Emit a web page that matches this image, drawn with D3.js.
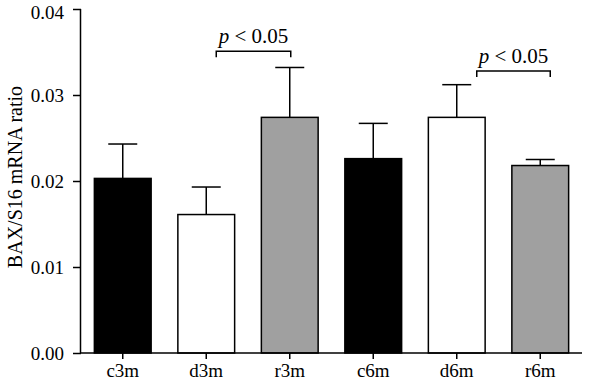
<!DOCTYPE html>
<html><head><meta charset="utf-8">
<script src="https://cdn.jsdelivr.net/npm/d3@7"></script>
<style>body{margin:0;background:#fff}svg{display:block}</style>
</head><body><svg id="c" width="600" height="383"></svg>
<script>
const categories = ["c3m","d3m","r3m","c6m","d6m","r6m"];
const means = [0.0203,0.0161,0.0274,0.0226,0.0274,0.0218];
const errors = [0.0040,0.0032,0.0058,0.0041,0.0038,0.0007];
const fills = ["#000000","#ffffff","#a0a0a0","#000000","#ffffff","#a0a0a0"];
const yTicks = [0,0.01,0.02,0.03,0.04];
const yLabel = "BAX/S16 mRNA ratio";
const comparisons = [["d3m","r3m",0.0351],["d6m","r6m",0.0328]];

const svg = d3.select("#c");
const font = "'Liberation Serif', 'DejaVu Serif', serif";
const x = d3.scaleBand().domain(categories).range([81,582]).paddingInner(0.32).paddingOuter(0.16);
const y = d3.scaleLinear().domain([0,0.04]).range([353,9]);

// bars
svg.selectAll("rect.bar").data(categories).enter().append("rect")
  .attr("x", d=>x(d)).attr("width", x.bandwidth())
  .attr("y", (d,i)=>y(means[i])).attr("height",(d,i)=>y(0)-y(means[i]))
  .attr("fill",(d,i)=>fills[i]).attr("stroke","#000").attr("stroke-width",1.5);

// error bars
const capW = 29;
categories.forEach((c,i)=>{
  const cx = x(c)+x.bandwidth()/2;
  svg.append("line").attr("x1",cx).attr("x2",cx).attr("y1",y(means[i])).attr("y2",y(means[i]+errors[i]))
    .attr("stroke","#000").attr("stroke-width",1.5);
  svg.append("line").attr("x1",cx-capW/2).attr("x2",cx+capW/2).attr("y1",y(means[i]+errors[i])).attr("y2",y(means[i]+errors[i]))
    .attr("stroke","#000").attr("stroke-width",1.5);
});

// axes
const yAxis = svg.append("g").attr("transform","translate(81,0)")
  .call(d3.axisLeft(y).tickValues(yTicks).tickFormat(d3.format(".2f")).tickSize(8).tickPadding(9));
const xAxis = svg.append("g").attr("transform","translate(0,353)")
  .call(d3.axisBottom(x).tickSize(6).tickPadding(5));
[yAxis,xAxis].forEach(g=>{
  g.select(".domain").attr("stroke","#000").attr("stroke-width",1.5);
  g.selectAll(".tick line").attr("stroke","#000").attr("stroke-width",1.5);
  g.selectAll("text").attr("font-family",font).attr("fill","#000");
});
yAxis.selectAll("text").attr("font-size",19);
yAxis.selectAll(".tick text").filter(d=>d===0.04).attr("dy","0.5em");
xAxis.selectAll("text").attr("font-size",19);
yAxis.select(".domain").attr("d","M-0.5,9V353");
xAxis.select(".domain").attr("d","M81,0H582");

// y label
svg.append("text").attr("transform","translate(22,177) rotate(-90)")
  .attr("text-anchor","middle").attr("font-family",font).attr("font-size",20).text(yLabel);

// comparison brackets
const offs = [[10,1],[20,10]];
comparisons.forEach((cmp,k)=>{
  const x1 = x(cmp[0])+x.bandwidth()/2+offs[k][0];
  const x2 = x(cmp[1])+x.bandwidth()/2+offs[k][1];
  const yy = y(cmp[2]);
  svg.append("path").attr("d",`M${x1},${yy+6}V${yy}H${x2}V${yy+6}`)
    .attr("fill","none").attr("stroke","#000").attr("stroke-width",1.5);
  const t = svg.append("text").attr("x",(x1+x2)/2).attr("y",yy-8).attr("text-anchor","middle")
    .attr("font-family",font).attr("font-size",21);
  t.append("tspan").attr("font-style","italic").text("p");
  t.append("tspan").text(" < 0.05");
});
</script></body></html>
